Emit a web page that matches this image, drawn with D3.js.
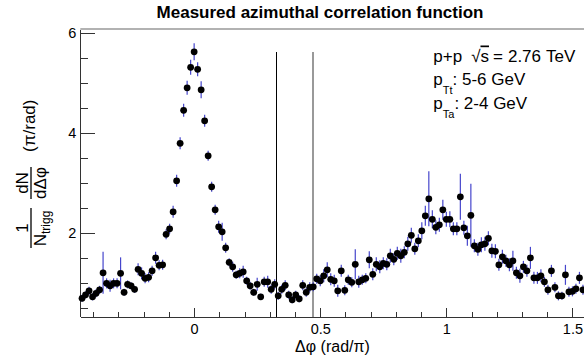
<!doctype html>
<html>
<head>
<meta charset="UTF-8">
<title>Measured azimuthal correlation function</title>
<style>
  body { margin: 0; background: #fff; }
  svg { display: block; font-family: "Liberation Sans", Arial, sans-serif; }
  .axis path, .axis line { stroke: #333; shape-rendering: crispEdges; }
  .axis text { font-size: 14.5px; fill: #000; font-family: "Liberation Sans", Arial, sans-serif; }
</style>
<script src="https://d3js.org/d3.v7.min.js"></script>
</head>
<body>
<svg id="chart" width="584" height="363"></svg>
<script>
// histogram: bins of width 1/72 (units of pi), first bin centred on -32/72
var firstBin = -32;
var binsPerUnit = 72;

// per-bin yield (bins -32 .. 111)
var yields = [
  0.70, 0.77, 0.85, 0.73, 0.80, 0.87, 1.21, 1.00, 0.95, 1.00, 1.00, 1.20, 0.82, 0.98, 0.95, 0.88,
  1.28, 1.20, 1.10, 1.12, 1.25, 1.51, 1.36, 1.37, 1.98, 2.09, 2.43, 3.05, 3.80, 4.46, 4.91, 5.32,
  5.63, 5.28, 4.87, 4.25, 3.55, 2.93, 2.47, 2.13, 2.03, 1.71, 1.42, 1.33, 1.17, 1.20, 1.23, 1.05,
  0.95, 0.82, 0.98, 0.73, 1.03, 1.03, 0.88, 0.98, 0.75, 0.88, 0.96, 0.77, 0.67, 0.77, 0.69, 0.96,
  0.82, 0.92, 0.93, 1.09, 1.05, 1.15, 1.27, 1.08,
  1.05, 0.85, 1.25, 0.86, 1.07, 1.02, 1.38, 1.03, 1.07, 1.10, 1.47, 1.18, 1.38, 1.33, 1.40, 1.38,
  1.55, 1.48, 1.60, 1.55, 1.62, 1.79, 1.96, 1.69, 1.85, 2.05, 2.35, 2.69, 2.28, 2.12, 2.17, 2.47,
  2.28, 2.28, 2.09, 2.09, 2.73, 2.11, 1.95, 2.36,
  1.75, 1.68, 1.77, 1.79, 1.90, 1.65, 1.64, 1.37, 1.53, 1.45, 1.37, 1.45, 1.21, 1.15, 1.33, 1.25,
  1.51, 1.11, 1.11, 1.15, 1.03, 0.87, 1.25, 0.92, 0.75, 0.75, 1.17, 0.83, 0.84, 0.89, 1.11, 0.87
];

// statistical error per bin
var errors = [
  0.07, 0.07, 0.08, 0.07, 0.08, 0.08, 0.42, 0.10, 0.12, 0.10, 0.10, 0.32, 0.07, 0.08, 0.07, 0.07,
  0.12, 0.12, 0.10, 0.10, 0.10, 0.12, 0.10, 0.10, 0.10, 0.10, 0.12, 0.12, 0.12, 0.13, 0.14, 0.15,
  0.17, 0.14, 0.17, 0.12, 0.10, 0.10, 0.10, 0.12, 0.18, 0.10, 0.08, 0.10, 0.08, 0.10, 0.12, 0.08,
  0.08, 0.07, 0.13, 0.06, 0.10, 0.12, 0.09, 0.10, 0.08, 0.09, 0.10, 0.08, 0.07, 0.08, 0.07, 0.10,
  0.09, 0.10, 0.09, 0.10, 0.11, 0.13, 0.15, 0.12,
  0.12, 0.12, 0.12, 0.10, 0.10, 0.10, 0.30, 0.12, 0.10, 0.10, 0.17, 0.12, 0.14, 0.13, 0.12, 0.12,
  0.14, 0.12, 0.13, 0.14, 0.12, 0.14, 0.15, 0.12, 0.13, 0.17, 0.20, 0.55, 0.18, 0.14, 0.14, 0.20,
  0.15, 0.16, 0.13, 0.13, 0.46, 0.14, 0.20, 0.63,
  0.13, 0.13, 0.15, 0.14, 0.14, 0.14, 0.14, 0.12, 0.14, 0.12, 0.13, 0.20, 0.12, 0.14, 0.12, 0.12,
  0.22, 0.12, 0.12, 0.13, 0.10, 0.10, 0.12, 0.10, 0.09, 0.08, 0.20, 0.10, 0.10, 0.10, 0.12, 0.10
];

var xTicks = [0, 0.5, 1, 1.5];
var yTicks = [2, 4, 6];
var cutLines = [0.325, 0.473];   // delta-phi window edges

// frame of the pad
var padL = 80.3, padR = 584.7, padT = 29, padB = 316.7;

var svg = d3.select("#chart");

var xScale = d3.scaleLinear()
  .domain([(firstBin - 0.5) / binsPerUnit, (firstBin + yields.length - 0.5) / binsPerUnit])
  .range([padL, padR]);
var yScale = d3.scaleLinear().domain([0.333, 6.087]).range([padB, padT]);

var bins = yields.map(function(v, i) {
  return { x: (firstBin + i) / binsPerUnit, y: v, e: errors[i] };
});

// x axis, ticks pointing inwards
svg.append("g").attr("class", "axis")
  .attr("transform", "translate(0," + padB + ")")
  .call(d3.axisBottom(xScale).tickValues(xTicks).tickFormat(d3.format("~g"))
    .tickSize(-9).tickSizeOuter(0).tickPadding(7));
svg.append("g").attr("class", "axis")
  .attr("transform", "translate(0," + padB + ")")
  .call(d3.axisBottom(xScale)
    .tickValues(d3.range(-4, 16).map(function(i) { return i / 10; }).filter(function(t) { return xTicks.indexOf(t) < 0; }))
    .tickFormat("").tickSize(-4.5).tickSizeOuter(0))
  .select(".domain").remove();

// y axis
svg.append("g").attr("class", "axis")
  .attr("transform", "translate(" + padL + ",0)")
  .call(d3.axisLeft(yScale).tickValues(yTicks).tickFormat(d3.format("~g"))
    .tickSize(-15).tickSizeOuter(0).tickPadding(4));
svg.append("g").attr("class", "axis")
  .attr("transform", "translate(" + padL + ",0)")
  .call(d3.axisLeft(yScale)
    .tickValues(d3.range(1, 13).map(function(i) { return i / 2; }).filter(function(t) { return yTicks.indexOf(t) < 0; }))
    .tickFormat("").tickSize(-8).tickSizeOuter(0))
  .select(".domain").remove();

// top edge of the frame
svg.append("line")
  .attr("x1", padL).attr("x2", padR).attr("y1", padT).attr("y2", padT)
  .attr("stroke", "#666").attr("stroke-width", 1.2);

// window lines, up to the histogram maximum
var ymax = d3.max(yields);
svg.selectAll("line.cut")
  .data(cutLines)
  .enter().append("line")
    .attr("class", "cut")
    .attr("x1", function(d) { return xScale(d); })
    .attr("x2", function(d) { return xScale(d); })
    .attr("y1", yScale(yScale.domain()[0]))
    .attr("y2", yScale(ymax))
    .attr("stroke", function(d, i) { return i == 0 ? "#000" : "#999"; })
    .attr("stroke-width", function(d, i) { return i == 0 ? 1 : 2; })
    .style("shape-rendering", "crispEdges");

// error bars
svg.selectAll("line.err")
  .data(bins)
  .enter().append("line")
    .attr("class", "err")
    .attr("x1", function(d) { return xScale(d.x); })
    .attr("x2", function(d) { return xScale(d.x); })
    .attr("y1", function(d) { return yScale(d.y - d.e); })
    .attr("y2", function(d) { return yScale(d.y + d.e); })
    .attr("stroke", "#4646cc")
    .attr("stroke-width", 1.2);

// markers
svg.selectAll("circle.pt")
  .data(bins)
  .enter().append("circle")
    .attr("class", "pt")
    .attr("cx", function(d) { return xScale(d.x); })
    .attr("cy", function(d) { return yScale(d.y); })
    .attr("r", 3.4)
    .attr("fill", "#000");

// title
svg.append("text")
  .attr("x", 320).attr("y", 18)
  .attr("text-anchor", "middle")
  .style("font-size", "17px").style("font-weight", "bold")
  .text("Measured azimuthal correlation function");

// x axis title
svg.append("text")
  .attr("x", (padL + padR) / 2).attr("y", 351.5)
  .attr("text-anchor", "middle")
  .style("font-size", "16px")
  .text("\u0394\u03c6 (rad/\u03c0)");

// y axis title: 1/N_trigg dN/d(dphi) (pi/rad), rotated
var yt = svg.append("g").attr("transform", "rotate(-90)").style("font-size", "17px");
yt.append("text").attr("x", -125.7).attr("y", 35).attr("text-anchor", "middle").text("(\u03c0/rad)");

yt.append("text").attr("x", -183).attr("y", 28).attr("text-anchor", "middle").text("dN");
yt.append("line").attr("x1", -167).attr("x2", -199).attr("y1", 31).attr("y2", 31)
  .attr("stroke", "#000").attr("stroke-width", 1.3);
yt.append("text").attr("x", -183).attr("y", 45.5).attr("text-anchor", "middle").text("d\u0394\u03c6");

yt.append("text").attr("x", -228).attr("y", 28).attr("text-anchor", "middle").text("1");
yt.append("line").attr("x1", -208).attr("x2", -248).attr("y1", 31).attr("y2", 31)
  .attr("stroke", "#000").attr("stroke-width", 1.3);
var nt = yt.append("text").attr("x", -228.5).attr("y", 45.5).attr("text-anchor", "middle");
nt.append("tspan").text("N");
nt.append("tspan").attr("dy", 4).style("font-size", "12px").text("trigg");

// info text top right
var info = svg.append("g").style("font-size", "17px");
var l1 = info.append("text").attr("x", 433.3).attr("y", 61.5);
l1.append("tspan").text("p+p");
l1.append("tspan").attr("dx", 9).text("\u221a");
l1.append("tspan").style("text-decoration", "overline").text("s");
l1.append("tspan").attr("dx", 4).text("=");
l1.append("tspan").attr("dx", 5).text("2.76");
l1.append("tspan").attr("dx", 5).text("TeV");

var l2 = info.append("text").attr("x", 433.3).attr("y", 85);
l2.append("tspan").text("p");
l2.append("tspan").attr("dy", 9).style("font-size", "11px").text("Tt");
l2.append("tspan").attr("dy", -9).text(": 5-6 GeV");

var l3 = info.append("text").attr("x", 433.3).attr("y", 109);
l3.append("tspan").text("p");
l3.append("tspan").attr("dy", 9).style("font-size", "11px").text("Ta");
l3.append("tspan").attr("dy", -9).text(": 2-4 GeV");
</script>
</body>
</html>
